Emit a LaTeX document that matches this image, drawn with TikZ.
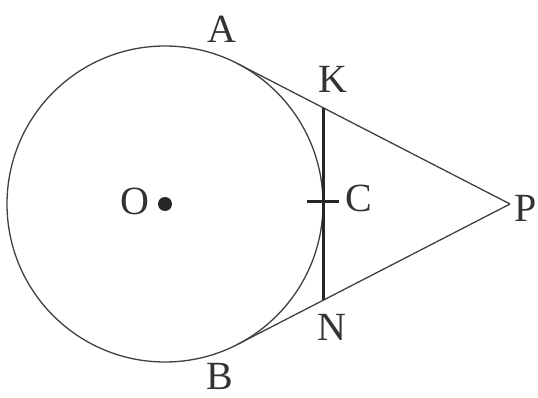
\documentclass[tikz,border=0pt]{standalone}
\usepackage{fontspec}
\setmainfont{Liberation Serif}
\begin{document}
\begin{tikzpicture}[x=1pt,y=-1pt,
  thinline/.style={draw=black!75,line width=1.3pt},
  thickline/.style={draw=black!85,line width=3pt},
  lbl/.style={inner sep=0pt,font=\fontsize{40}{44}\selectfont,text=black!80}]
\useasboundingbox (0,0) rectangle (538,398);
\coordinate (O) at (165,204);
\coordinate (P) at (510,204);
\coordinate (A) at (237.36,63.54);
\coordinate (B) at (237.36,344.46);
\coordinate (K) at (323,107.66);
\coordinate (N) at (323,300.34);
\coordinate (C) at (323,204);
\coordinate (Tl) at (307,202);
\coordinate (Tr) at (339,202);
\draw[thinline] (O) circle (158);
\draw[thinline] (A) -- (P);
\draw[thinline] (B) -- (P);
\draw[thickline] (K) -- (N);
\draw[thickline] (Tl) -- (Tr);
\fill[black!85] (O) circle (7);
\node[lbl] (lO) at (135,201) {O};
\node[lbl] (lA) at (222,29) {A};
\node[lbl] (lK) at (333,79) {K};
\node[lbl] (lC) at (359,198) {C};
\node[lbl] (lN) at (332,327) {N};
\node[lbl] (lB) at (220,376) {B};
\node[lbl] (lP) at (526,208) {P};
\end{tikzpicture}
\end{document}
